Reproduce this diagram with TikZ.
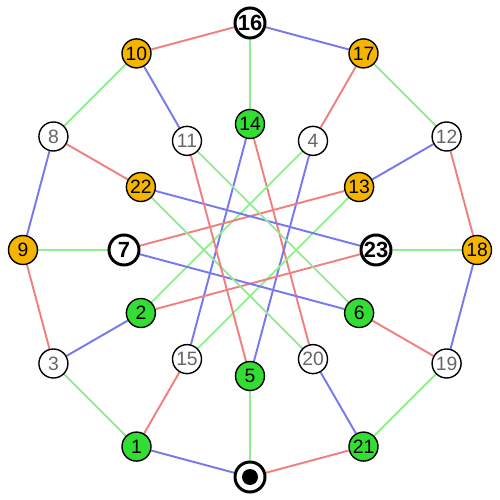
\documentclass[tikz,border=0pt]{standalone}
\usepackage{fontspec}
\setmainfont{Liberation Sans}
\usepackage{tikz}
\usetikzlibrary{backgrounds}
\definecolor{vorange}{HTML}{F5B400}
\definecolor{vgreen}{HTML}{33DD33}
\definecolor{ered}{HTML}{F08080}
\definecolor{eblue}{HTML}{7878EE}
\definecolor{egreen}{HTML}{90EE90}

\begin{document}
\begin{tikzpicture}[
  vx/.style={circle, draw=black, line width=0.8pt, minimum size=0.58cm, inner sep=0pt,
    font=\fontsize{11}{12}\selectfont},
  vwhite/.style={vx, fill=white, text=black!60},
  vorg/.style={vx, fill=vorange},
  vgrn/.style={vx, fill=vgreen},
  vbold/.style={vx, fill=white, line width=1.7pt, minimum size=0.6cm,
    font=\fontsize{12.5}{13}\selectfont\bfseries},
  vroot/.style={vbold, path picture={\fill[black] (path picture bounding box.center) circle (0.16);}},
  er/.style={ered, line width=1.1pt},
  eb/.style={eblue, line width=1.1pt},
  eg/.style={egreen, line width=1.1pt}]
\useasboundingbox (-5,-5) rectangle (5,5);
\def\Ro{4.54}
\def\Ri{2.52}
% outer ring
\node[vbold] (o16) at (90:\Ro) {16};
\node[vorg] (o17) at (60:\Ro) {17};
\node[vwhite] (o12) at (30:\Ro) {12};
\node[vorg] (o18) at (0:\Ro) {18};
\node[vwhite] (o19) at (-30:\Ro) {19};
\node[vgrn] (o21) at (-60:\Ro) {21};
\node[vroot] (root) at (-90:\Ro) {};
\node[vgrn] (o1) at (-120:\Ro) {1};
\node[vwhite] (o3) at (-150:\Ro) {3};
\node[vorg] (o9) at (180:\Ro) {9};
\node[vwhite] (o8) at (150:\Ro) {8};
\node[vorg] (o10) at (120:\Ro) {10};
% inner star
\node[vgrn] (i14) at (90:\Ri) {14};
\node[vwhite] (i4) at (60:\Ri) {4};
\node[vorg] (i13) at (30:\Ri) {13};
\node[vbold] (i23) at (0:\Ri) {23};
\node[vgrn] (i6) at (-30:\Ri) {6};
\node[vwhite] (i20) at (-60:\Ri) {20};
\node[vgrn] (i5) at (-90:\Ri) {5};
\node[vwhite] (i15) at (-120:\Ri) {15};
\node[vgrn] (i2) at (-150:\Ri) {2};
\node[vbold] (i7) at (180:\Ri) {7};
\node[vorg] (i22) at (150:\Ri) {22};
\node[vwhite] (i11) at (120:\Ri) {11};
\begin{scope}[on background layer]
% ring edges
\draw[eb] (o16) -- (o17);
\draw[eg] (o17) -- (o12);
\draw[er] (o12) -- (o18);
\draw[eb] (o18) -- (o19);
\draw[eg] (o19) -- (o21);
\draw[er] (o21) -- (root);
\draw[eb] (root) -- (o1);
\draw[eg] (o1) -- (o3);
\draw[er] (o3) -- (o9);
\draw[eb] (o9) -- (o8);
\draw[eg] (o8) -- (o10);
\draw[er] (o10) -- (o16);
% spokes
\draw[eg] (o16) -- (i14);
\draw[er] (o17) -- (i4);
\draw[eb] (o12) -- (i13);
\draw[eg] (o18) -- (i23);
\draw[er] (o19) -- (i6);
\draw[eb] (o21) -- (i20);
\draw[eg] (root) -- (i5);
\draw[er] (o1) -- (i15);
\draw[eb] (o3) -- (i2);
\draw[eg] (o9) -- (i7);
\draw[er] (o8) -- (i22);
\draw[eb] (o10) -- (i11);
% star edges
\draw[eb] (i14) -- (i15);
\draw[er] (i14) -- (i20);
\draw[eb] (i4) -- (i5);
\draw[eg] (i4) -- (i2);
\draw[er] (i13) -- (i7);
\draw[eg] (i13) -- (i15);
\draw[eb] (i23) -- (i22);
\draw[er] (i23) -- (i2);
\draw[eb] (i6) -- (i7);
\draw[eg] (i6) -- (i11);
\draw[eg] (i20) -- (i22);
\draw[er] (i5) -- (i11);
\end{scope}
\end{tikzpicture}
\end{document}
